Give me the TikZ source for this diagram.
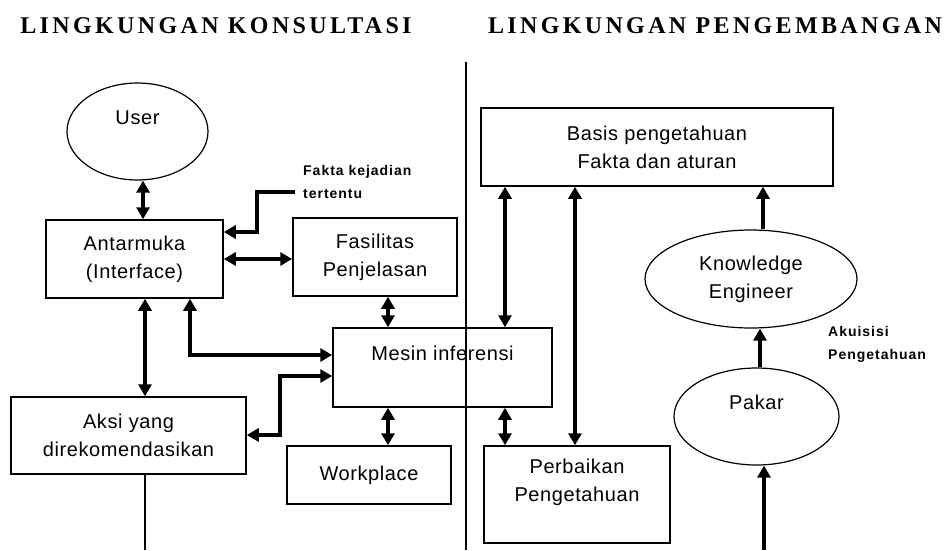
\documentclass[tikz,border=0pt]{standalone}
\usepackage{fontspec}
\setmainfont{Liberation Sans}
\newfontfamily\titlefont{Liberation Serif}[LetterSpace=14]
\newfontfamily\boxfont{Liberation Sans}[LetterSpace=3]
\newfontfamily\notefont{Liberation Sans}[LetterSpace=7]
\usetikzlibrary{arrows.meta, positioning, shapes.geometric}

\begin{document}
\begin{tikzpicture}[x=1pt, y=-1pt,
    box/.style={rectangle, draw, line width=1.5pt, inner sep=0pt, align=center, font=\boxfont\fontsize{20}{28}\selectfont},
    oval/.style={ellipse, draw, line width=1.2pt, inner sep=0pt, align=center, font=\boxfont\fontsize{20}{28}\selectfont},
    judul/.style={font=\titlefont\bfseries\fontsize{24}{28}\selectfont, inner sep=0pt},
    note/.style={font=\notefont\bfseries\fontsize{14}{23}\selectfont, align=left, inner sep=0pt},
    dbl/.style={{Triangle[width=13pt,length=12pt]}-{Triangle[width=13pt,length=12pt]}, line width=3.5pt},
    sgl/.style={-{Triangle[width=13pt,length=12pt]}, line width=3.5pt},
    garis/.style={line width=1.5pt}]
    \useasboundingbox (0,0) rectangle (948,550);

    \node[judul] (konsul) at (216,26) {LINGKUNGAN KONSULTASI};
    \node[judul] (kembang) at (715,26) {LINGKUNGAN PENGEMBANGAN};

    \node[oval, minimum width=141pt, minimum height=97pt] (user) at (137.5,131.5) {User\\\mbox{}};
    \node[box, minimum width=177pt, minimum height=78pt] (antar) at (134.5,259) {Antarmuka\\(Interface)};
    \node[box, minimum width=164pt, minimum height=78pt] (fasil) at (375,257) {Fasilitas\\Penjelasan};
    \node[box, minimum width=219pt, minimum height=79pt] (mesin) at (442.5,367.5) {Mesin inferensi\\\mbox{}};
    \node[box, minimum width=235pt, minimum height=77pt] (aksi) at (128.5,435.5) {Aksi yang\\direkomendasikan};
    \node[box, minimum width=164pt, minimum height=58pt] (work) at (369,475) {Workplace};
    \node[box, minimum width=352pt, minimum height=78pt] (basis) at (657,147) {Basis pengetahuan\\Fakta dan aturan};
    \node[box, minimum width=186pt, minimum height=97pt] (perb) at (577,494.5) {Perbaikan\\Pengetahuan\\\mbox{}};
    \node[oval, minimum width=212pt, minimum height=98pt] (ke) at (751,279) {Knowledge\\Engineer};
    \node[oval, minimum width=165pt, minimum height=97pt] (pakar) at (756.5,416.5) {Pakar\\\mbox{}};

    \node[note, anchor=west] (fakta) at (303,182) {Fakta kejadian\\tertentu};
    \node[note, anchor=west] (akuisisi) at (828,344) {Akuisisi\\Pengetahuan};

    \coordinate (batas1) at (466,62);
    \coordinate (batas2) at (466,550);
    \coordinate (fk) at (295,192);
    \coordinate (aksibawah) at (145,550);
    \coordinate (pakarbawah) at (764,550);

    \draw[garis] (batas1) -- (batas2);
    \draw[garis] (aksi.south -| aksibawah) -- (aksibawah);

    \draw[dbl] (143,0 |- user.south) -- (143,0 |- antar.north);
    \draw[sgl] (fk) -| (257,232) -- (antar.east |- 0,232);
    \draw[dbl] (antar.east |- 0,259) -- (fasil.west |- 0,259);
    \draw[dbl] (388,0 |- fasil.south) -- (388,0 |- mesin.north);
    \draw[dbl] (145,0 |- antar.south) -- (145,0 |- aksi.north);
    \draw[dbl] (190,0 |- antar.south) |- (mesin.west |- 0,355);
    \draw[dbl] (aksi.east |- 0,435) -| (280,376) -- (mesin.west |- 0,376);
    \draw[dbl] (388,0 |- mesin.south) -- (388,0 |- work.north);
    \draw[dbl] (505,0 |- basis.south) -- (505,0 |- mesin.north);
    \draw[dbl] (575,0 |- basis.south) -- (575,0 |- perb.north);
    \draw[dbl] (505,0 |- mesin.south) -- (505,0 |- perb.north);
    \draw[sgl] (763,0 |- ke.north) -- (763,0 |- basis.south);
    \draw[sgl] (760,0 |- pakar.north) -- (760,0 |- ke.south);
    \draw[sgl] (pakarbawah) -- (pakarbawah |- pakar.south);
\end{tikzpicture}
\end{document}
